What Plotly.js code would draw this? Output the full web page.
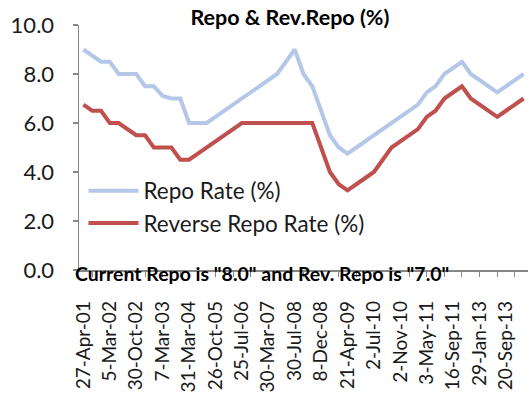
<!DOCTYPE html>
<html>
<head>
<meta charset="utf-8">
<script src="https://cdn.plot.ly/plotly-3.0.1.min.js"></script>
<style>html,body{margin:0;padding:0;background:#fff;}#chart{width:529px;height:400px;}</style>
</head>
<body>
<div id="chart"></div>
<script>
// Policy change dates (categories)
const dates = [
  "27-Apr-01","28-May-01","7-Jun-01","5-Mar-02","28-Mar-02","27-Jun-02",
  "30-Oct-02","12-Nov-02","3-Mar-03","7-Mar-03","19-Mar-03","25-Aug-03",
  "31-Mar-04","27-Oct-04","29-Apr-05","26-Oct-05","24-Jan-06","9-Jun-06",
  "25-Jul-06","31-Oct-06","31-Jan-07","30-Mar-07","12-Jun-08","25-Jun-08",
  "30-Jul-08","20-Oct-08","3-Nov-08","8-Dec-08","5-Jan-09","5-Mar-09",
  "21-Apr-09","19-Mar-10","20-Apr-10","2-Jul-10","27-Jul-10","16-Sep-10",
  "2-Nov-10","25-Jan-11","17-Mar-11","3-May-11","16-Jun-11","26-Jul-11",
  "16-Sep-11","25-Oct-11","17-Apr-12","29-Jan-13","19-Mar-13","3-May-13",
  "20-Sep-13","29-Oct-13","28-Jan-14"
];
// Repo Rate (%)
const repoRate = [
  9.0, 8.75, 8.5, 8.5, 8.0, 8.0,
  8.0, 7.5, 7.5, 7.1, 7.0, 7.0,
  6.0, 6.0, 6.0, 6.25, 6.5, 6.75,
  7.0, 7.25, 7.5, 7.75, 8.0, 8.5,
  9.0, 8.0, 7.5, 6.5, 5.5, 5.0,
  4.75, 5.0, 5.25, 5.5, 5.75, 6.0,
  6.25, 6.5, 6.75, 7.25, 7.5, 8.0,
  8.25, 8.5, 8.0, 7.75, 7.5, 7.25,
  7.5, 7.75, 8.0
];
// Reverse Repo Rate (%)
const reverseRepoRate = [
  6.75, 6.5, 6.5, 6.0, 6.0, 5.75,
  5.5, 5.5, 5.0, 5.0, 5.0, 4.5,
  4.5, 4.75, 5.0, 5.25, 5.5, 5.75,
  6.0, 6.0, 6.0, 6.0, 6.0, 6.0,
  6.0, 6.0, 6.0, 5.0, 4.0, 3.5,
  3.25, 3.5, 3.75, 4.0, 4.5, 5.0,
  5.25, 5.5, 5.75, 6.25, 6.5, 7.0,
  7.25, 7.5, 7.0, 6.75, 6.5, 6.25,
  6.5, 6.75, 7.0
];
// Shown tick labels (every third category) and tick marks (every second category)
const shownLabels = dates.filter((d, i) => i % 3 === 0);
const tickMarkCats = dates.filter((d, i) => i % 2 === 1);
const yTicks = [0, 2, 4, 6, 8, 10];

const FONT = "Lato, 'Open Sans', sans-serif";
const AXIS_GRAY = "#868686";
const TEXT = "#1a1a1a";

const traces = [
  {
    type: "scatter", mode: "lines", name: "Repo Rate (%)",
    x: dates, y: repoRate,
    line: {color: "#b4c7e9", width: 4}
  },
  {
    type: "scatter", mode: "lines", name: "Reverse Repo Rate (%)",
    x: dates, y: reverseRepoRate,
    line: {color: "#c0504d", width: 4}
  }
];

const layout = {
  width: 529, height: 400,
  margin: {l: 79, r: 1, t: 25, b: 130, pad: 0},
  paper_bgcolor: "#ffffff", plot_bgcolor: "#ffffff",
  font: {family: FONT, color: TEXT},
  showlegend: true,
  title: {
    text: "<b>Repo & Rev.Repo (%)</b>",
    xref: "container", yref: "container",
    x: 0.548, y: 0.956, xanchor: "center", yanchor: "middle",
    font: {family: FONT, size: 21.5, color: "#000"}
  },
  xaxis: {
    type: "category",
    categoryorder: "array", categoryarray: dates,
    range: [-0.5, dates.length - 0.5],
    tickmode: "array", tickvals: shownLabels, ticktext: shownLabels,
    tickangle: -90,
    ticks: "",
    ticklabelstandoff: 22,
    tickfont: {family: FONT, size: 19, color: TEXT},
    minor: {
      tickmode: "array", tickvals: tickMarkCats,
      ticks: "outside", ticklen: 5, tickwidth: 1, tickcolor: AXIS_GRAY,
      showgrid: false
    },
    showline: true, linecolor: AXIS_GRAY, linewidth: 1.5,
    showgrid: false, zeroline: false, fixedrange: true
  },
  yaxis: {
    range: [0, 10],
    tickmode: "array", tickvals: yTicks,
    tickformat: ".1f",
    ticks: "outside", ticklen: 5, tickwidth: 1.5, tickcolor: AXIS_GRAY,
    ticklabelstandoff: 14,
    tickfont: {family: FONT, size: 22, color: TEXT},
    showline: true, linecolor: AXIS_GRAY, linewidth: 1.5,
    showgrid: false, zeroline: false, fixedrange: true
  },
  legend: {
    x: 0.01, y: 0.41, xanchor: "left", yanchor: "top",
    bgcolor: "rgba(0,0,0,0)",
    font: {family: FONT, size: 22.5, color: TEXT},
    itemwidth: 50, tracegroupgap: 0
  },
  annotations: [{
    text: '<b>Current Repo is "8.0" and Rev. Repo is "7.0"</b>',
    xref: "paper", yref: "paper",
    x: 0.407, y: -0.016, xanchor: "center", yanchor: "middle",
    showarrow: false,
    font: {family: FONT, size: 19.5, color: "#000"}
  }]
};

Plotly.newPlot("chart", traces, layout, {displayModeBar: false, staticPlot: true});
</script>
</body>
</html>
